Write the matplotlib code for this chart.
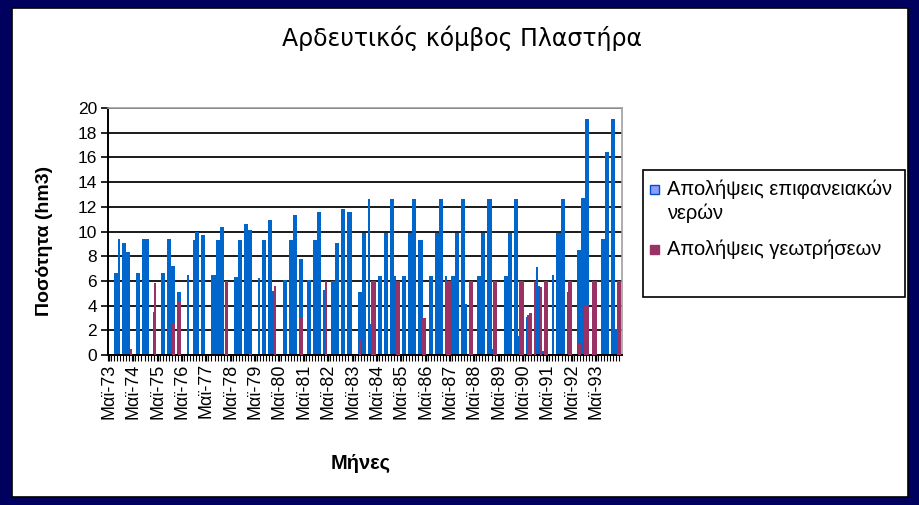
import matplotlib
matplotlib.use("Agg")
import matplotlib.pyplot as plt
from matplotlib.patches import Rectangle
import numpy as np

plt.rcParams['font.family'] = ['Liberation Sans', 'DejaVu Sans']

# Monthly withdrawals (hm3); one row per year, months May .. April
first_year = 1973
month_names = ['Ιαν', 'Φεβ', 'Μαρ', 'Απρ', 'Μαϊ', 'Ιουν',
               'Ιουλ', 'Αυγ', 'Σεπ', 'Οκτ', 'Νοε', 'Δεκ']

surface_rows = [
    [0, 0, 0, 6.6, 6.6, 9.4, 0, 9.1, 9.1, 8.3, 8.3, 0],           # 1973
    [0, 0, 6.6, 6.6, 0, 9.4, 9.4, 9.4, 0, 0, 3.5, 0],             # 1974
    [0, 0, 6.6, 6.6, 0, 9.4, 9.4, 7.2, 7.2, 0, 5.1, 5.1],         # 1975
    [0, 0, 0, 6.5, 0, 0, 9.3, 10.0, 10.0, 0, 9.7, 9.7],           # 1976
    [0, 0, 0, 6.5, 6.5, 9.3, 9.3, 10.4, 10.4, 0, 0, 0],           # 1977
    [0, 0, 6.3, 6.3, 9.3, 9.3, 0, 10.6, 10.6, 10.1, 10.1, 0],     # 1978
    [0, 0, 6.2, 0, 9.3, 9.3, 0, 10.9, 10.9, 5.2, 0, 0],           # 1979
    [0, 0, 6.1, 6.1, 0, 9.3, 9.3, 11.3, 11.3, 0, 7.8, 7.8],       # 1980
    [0, 0, 6.1, 6.1, 0, 9.3, 9.3, 11.6, 11.6, 0, 5.3, 0],         # 1981
    [0, 0, 6.0, 6.0, 9.1, 9.1, 0, 11.8, 11.8, 0, 11.6, 11.6],     # 1982
    [0, 0, 0, 5.1, 5.1, 9.9, 9.9, 0, 12.6, 2.5, 0, 0],            # 1983
    [0, 6.4, 6.4, 0, 9.9, 9.9, 0, 12.6, 12.6, 6.4, 0, 0],         # 1984
    [0, 6.4, 6.4, 0, 9.9, 9.9, 12.6, 12.6, 0, 9.3, 9.3, 0],       # 1985
    [0, 0, 6.4, 6.4, 0, 9.9, 9.9, 12.6, 12.6, 0, 6.4, 0],         # 1986
    [0, 6.4, 6.4, 9.9, 9.9, 0, 12.6, 12.6, 4.1, 0, 0, 0],         # 1987
    [0, 0, 6.4, 6.4, 9.9, 9.9, 0, 12.6, 12.6, 0.5, 0, 0],         # 1988
    [0, 0, 0, 6.4, 6.4, 9.9, 9.9, 0, 12.6, 12.6, 1.5, 0],         # 1989
    [0, 0, 3.1, 0, 0, 0, 0, 7.1, 5.6, 0, 0.3, 0],                 # 1990
    [0, 0, 0, 6.5, 0, 9.9, 9.9, 12.6, 12.6, 0, 5.1, 0],           # 1991
    [0, 0, 0, 8.5, 8.5, 12.7, 12.7, 19.1, 19.1, 0, 0, 0],         # 1992
    [0, 0, 0, 9.4, 9.4, 16.4, 16.4, 0, 19.1, 19.1, 2.1, 0],       # 1993
]

borehole_rows = [
    [0, 0, 0, 0, 0, 0, 0, 0, 0, 0, 0.5, 0],                       # 1973
    [0, 0, 0, 0, 0, 0, 0, 0, 0, 0, 5.8, 0],                       # 1974
    [0, 0, 0, 0, 0, 0, 0, 2.6, 0, 0, 4.4, 0],                     # 1975
    [0, 0, 0, 0, 0, 0, 0, 0, 0, 0, 0, 0],                         # 1976
    [0, 0, 0, 0, 0, 0, 0, 0, 0, 6.0, 0, 0],                       # 1977
    [0, 0, 0, 0, 0, 0, 0, 0, 0, 0.2, 0, 0],                       # 1978
    [0, 0, 0, 0, 0, 0, 0, 0, 0, 5.6, 0, 0],                       # 1979
    [0, 0, 0, 0, 0, 0, 0, 0, 0, 0, 3.0, 0],                       # 1980
    [0, 0, 0, 0, 0, 0, 0, 0, 0, 0, 6.0, 0],                       # 1981
    [0, 0, 0, 0, 0, 0, 0, 0, 0, 0, 0, 0],                         # 1982
    [0, 0, 0, 1.3, 0, 0, 0, 0, 0, 6.0, 6.0, 0],                   # 1983
    [0, 0, 0, 0, 0, 0, 0, 0, 0, 6.0, 6.0, 0],                     # 1984
    [0, 0, 0, 0, 0, 0, 0, 0, 0, 0, 3.0, 3.0],                     # 1985
    [0, 0, 0, 0, 0, 0, 0, 0, 0, 0, 6.0, 6.0],                     # 1986
    [0, 0, 0, 0, 0, 0, 0, 0, 0, 6.0, 6.0, 0],                     # 1987
    [0, 0, 0, 0, 0, 0, 0, 0, 0, 6.0, 6.0, 0],                     # 1988
    [0, 0, 0, 0, 0, 0, 0, 0, 0, 0, 6.0, 6.0],                     # 1989
    [0, 0, 3.2, 3.4, 0, 6.0, 0, 0, 5.5, 0, 6.0, 6.0],             # 1990
    [0, 0, 0, 0, 0, 0, 0, 0, 0, 0, 6.0, 6.0],                     # 1991
    [0, 0, 0, 0.9, 0, 0, 4.0, 4.0, 0, 0, 6.0, 6.0],               # 1992
    [0, 0, 0, 0, 0, 0, 0, 0, 0, 0, 6.0, 6.0],                     # 1993
]

series_names = ['Απολήψεις επιφανειακών\nνερών', 'Απολήψεις γεωτρήσεων']
y_ticks = list(range(0, 21, 2))

surface = np.concatenate([np.array(r, float) for r in surface_rows])
boreholes = np.concatenate([np.array(r, float) for r in borehole_rows])
n = len(surface)
x = np.arange(n)

# month labels, one category per month starting May of the first year
labels = []
for i in range(n):
    mi = (4 + i) % 12
    yr = first_year + (4 + i) // 12
    labels.append(f"{month_names[mi]}-{yr % 100:02d}")

W, H = 919, 505
fig = plt.figure(figsize=(W / 100, H / 100), dpi=100, facecolor='#00005e')

# white chart panel inside the dark frame
fig.patches.append(Rectangle((12 / W, 1 - 497 / H), (908 - 12) / W, (497 - 8) / H,
                             transform=fig.transFigure, facecolor='white',
                             edgecolor='black', linewidth=1.2, zorder=-10))

ax = fig.add_axes([108 / W, 1 - 355 / H, (622 - 108) / W, (355 - 108) / H])
ax.set_zorder(1)
ax.set_facecolor('white')

blue = '#0066cc'
maroon = '#993366'
ax.bar(x, surface, width=1.0, color=blue, linewidth=0, zorder=2)
ax.bar(x + 0.8, boreholes, width=1.2, color=maroon, linewidth=0, zorder=3)

ax.set_xlim(-0.5, n + 0.8)
ax.set_ylim(0, 20)
ax.set_yticks(y_ticks)
ax.set_yticklabels([str(t) for t in y_ticks], fontsize=12.5)
ax.yaxis.grid(True, color='#1a1a1a', linewidth=1.4)
ax.set_axisbelow(True)

yearly = x[::12]
ax.set_xticks(yearly)
ax.set_xticklabels([labels[i] for i in yearly], rotation=90, fontsize=13)
ax.set_xticks(np.arange(-0.5, n, 1.5), minor=True)
ax.tick_params(axis='x', which='major', length=4, width=1, color='black', pad=2)
ax.tick_params(axis='x', which='minor', length=4, width=0.8, color='black')
ax.tick_params(axis='y', length=5, width=1.2, color='black', pad=3)

for side in ('left', 'bottom'):
    ax.spines[side].set_color('black')
    ax.spines[side].set_linewidth(1.4)
for side in ('top', 'right'):
    ax.spines[side].set_color('#a0a0a0')
    ax.spines[side].set_linewidth(1.2)

fig.text(462 / W, 1 - 38 / H, 'Αρδευτικός κόμβος Πλαστήρα', ha='center', va='center',
         fontsize=17, family=['DejaVu Sans'])
fig.text(45 / W, 1 - 241 / H, 'Ποσότητα (hm3)', rotation=90, ha='center', va='center',
         fontsize=14, fontweight='bold')
fig.text(361 / W, 1 - 463 / H, 'Μήνες', ha='center', va='center',
         fontsize=14.5, fontweight='bold')

# legend box
fig.patches.append(Rectangle((643 / W, 1 - 297 / H), (905 - 643) / W, (297 - 170) / H,
                             transform=fig.transFigure, facecolor='white',
                             edgecolor='black', linewidth=1.2, zorder=1))
fig.patches.append(Rectangle((650 / W, 1 - 194 / H), 9 / W, 9 / H,
                             transform=fig.transFigure, facecolor='#8c9cff',
                             edgecolor='#0050c0', linewidth=1.0, zorder=2))
fig.patches.append(Rectangle((650 / W, 1 - 254 / H), 9 / W, 9 / H,
                             transform=fig.transFigure, facecolor=maroon,
                             edgecolor=maroon, linewidth=1.0, zorder=2))
fig.text(667 / W, 1 - 189 / H, series_names[0].split('\n')[0], ha='left', va='center',
         fontsize=14.5)
fig.text(667 / W, 1 - 213 / H, series_names[0].split('\n')[1], ha='left', va='center',
         fontsize=14.5)
fig.text(667 / W, 1 - 249 / H, series_names[1], ha='left', va='center', fontsize=14.5)

fig.savefig('out.png', dpi=100, facecolor=fig.get_facecolor())
